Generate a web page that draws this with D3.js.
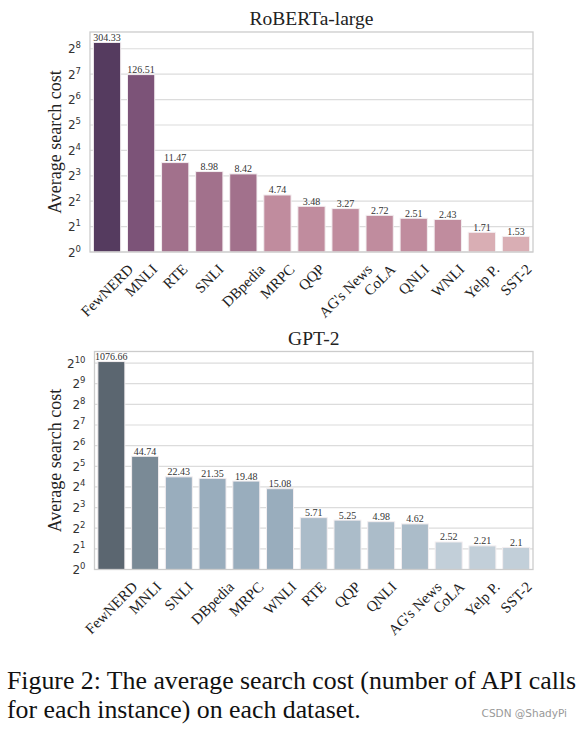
<!DOCTYPE html>
<html><head><meta charset="utf-8">
<script src="https://cdn.jsdelivr.net/npm/d3@7"></script>
<style>body{margin:0;background:#fff}svg{display:block}</style>
</head><body>
<script>
const robertaCats = ["FewNERD","MNLI","RTE","SNLI","DBpedia","MRPC","QQP","AG's News","CoLA","QNLI","WNLI","Yelp P.","SST-2"];
const robertaVals = [304.33,126.51,11.47,8.98,8.42,4.74,3.48,3.27,2.72,2.51,2.43,1.71,1.53];
const robertaColors = ["#553b5f","#7c5378","#a2718c","#a2718c","#a2718c","#c08c9e","#c08c9e","#c08c9e","#c08c9e","#c08c9e","#c08c9e","#d9aeb4","#d9aeb4"];
const robertaTicks = [0,1,2,3,4,5,6,7,8];

const gptCats = ["FewNERD","MNLI","SNLI","DBpedia","MRPC","WNLI","RTE","QQP","QNLI","AG's News","CoLA","Yelp P.","SST-2"];
const gptVals = [1076.66,44.74,22.43,21.35,19.48,15.08,5.71,5.25,4.98,4.62,2.52,2.21,2.1];
const gptColors = ["#5b6670","#7a8a96","#99adbd","#99adbd","#99adbd","#99adbd","#abbcc9","#abbcc9","#abbcc9","#abbcc9","#c2cfd9","#c2cfd9","#c2cfd9"];
const gptTicks = [0,1,2,3,4,5,6,7,8,9,10];

const W = 582, H = 729;
const SERIF = "Liberation Serif, Times New Roman, serif";
const svg = d3.select("body").append("svg").attr("width", W).attr("height", H);

function panel(cfg){
  const {cats, vals, colors, ticks, title, left, right, top, bottom, maxExp, titleY} = cfg;
  const g = svg.append("g");
  const x = d3.scaleBand().domain(cats).range([left, right]).paddingInner(0.2).paddingOuter(0.1);
  const y = d3.scaleLog().base(2).domain([1, Math.pow(2, maxExp)]).range([bottom, top]);

  g.append("g").selectAll("line").data(ticks).join("line")
    .attr("x1", left).attr("x2", right)
    .attr("y1", d => y(Math.pow(2,d))).attr("y2", d => y(Math.pow(2,d)))
    .attr("stroke", "#dcdcdc").attr("stroke-width", 1.2);

  g.append("g").selectAll("rect").data(cats).join("rect")
    .attr("x", d => x(d)).attr("width", x.bandwidth())
    .attr("y", (d,i) => y(vals[i])).attr("height", (d,i) => bottom - y(vals[i]))
    .attr("fill", (d,i) => colors[i]).attr("stroke", "#f3eef0").attr("stroke-width", 1);

  g.append("g").selectAll("text").data(cats).join("text")
    .attr("x", d => x(d) + x.bandwidth()/2).attr("y", (d,i) => y(vals[i]) - 1.5)
    .attr("text-anchor", "middle").attr("font-family", SERIF)
    .attr("font-size", 10).attr("fill", "#333")
    .text((d,i) => vals[i]);

  g.append("rect").attr("x", left).attr("y", top).attr("width", right-left).attr("height", bottom-top)
    .attr("fill", "none").attr("stroke", "#cccccc").attr("stroke-width", 1.3);

  const yt = g.append("g").selectAll("text").data(ticks).join("text")
    .attr("x", left - 9).attr("y", d => y(Math.pow(2,d)) + 4.5)
    .attr("text-anchor", "end").attr("font-family", "DejaVu Sans, sans-serif")
    .attr("font-size", 12).attr("fill", "#333");
  yt.append("tspan").text("2");
  yt.append("tspan").attr("dy", -5).attr("font-size", 8.5).text(d => d);

  g.append("text").attr("transform", `translate(55,${(top+bottom)/2}) rotate(-90)`)
    .attr("text-anchor", "middle").attr("font-family", SERIF)
    .attr("font-size", 18).attr("fill", "#222").attr("dy", "0.35em").text("Average search cost");

  g.append("text").attr("x", (left+right)/2).attr("y", titleY).attr("text-anchor", "middle")
    .attr("font-family", SERIF).attr("font-size", 19.5)
    .attr("fill", "#222").text(title);

  const fs = 15;
  g.append("g").selectAll("text").data(cats).join("text")
    .attr("font-family", SERIF).attr("font-size", fs)
    .attr("fill", "#222").attr("text-anchor", "middle").attr("dominant-baseline", "central")
    .text(d => d)
    .each(function(d){
      const L = this.getComputedTextLength();
      const half = (L + fs*0.9) / (2*Math.SQRT2);
      const cx = x(d) + x.bandwidth()/2;
      const cy = bottom + 10 + half;
      d3.select(this).attr("transform", `translate(${cx},${cy}) rotate(-45)`);
    });
}

panel({cats: robertaCats, vals: robertaVals, colors: robertaColors, ticks: robertaTicks,
  title: "RoBERTa-large", left: 90, right: 533, top: 32, bottom: 252, maxExp: 8.66, titleY: 25});
panel({cats: gptCats, vals: gptVals, colors: gptColors, ticks: gptTicks,
  title: "GPT-2", left: 94.5, right: 533, top: 351.5, bottom: 569.5, maxExp: 10.56, titleY: 345});

const cap = svg.append("g").attr("font-family", SERIF).attr("fill", "#111").attr("font-size", 25.8);
cap.append("text").attr("x", 7).attr("y", 689).text("Figure 2: The average search cost (number of API calls");
cap.append("text").attr("x", 7).attr("y", 718).text("for each instance) on each dataset.");
svg.append("text").attr("x", 567).attr("y", 717).attr("text-anchor", "end")
  .attr("font-family", "DejaVu Sans, sans-serif").attr("font-size", 10.5).attr("fill", "#999").text("CSDN @ShadyPi");
</script>
</body></html>
